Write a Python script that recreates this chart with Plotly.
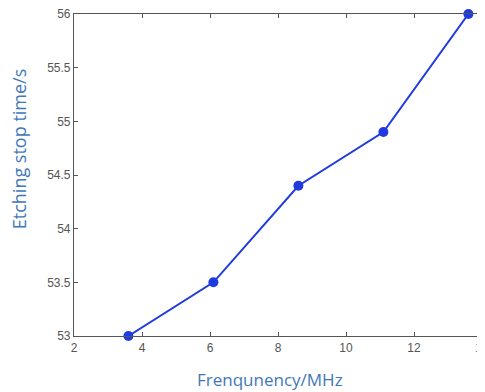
import plotly.graph_objects as go

freq = [3.6, 6.1, 8.6, 11.1, 13.6]
stop_time = [53.0, 53.5, 54.4, 54.9, 56.0]
x_ticks = [2, 4, 6, 8, 10, 12, 14]
y_ticks = [53, 53.5, 54, 54.5, 55, 55.5, 56]

fig = go.Figure()
fig.add_trace(go.Scatter(
    x=freq, y=stop_time, mode="lines+markers",
    line=dict(color="#1f3be0", width=2),
    marker=dict(color="#1f3be0", size=10),
    cliponaxis=False, showlegend=False,
))

axis_common = dict(
    showgrid=False, zeroline=False, showline=True, mirror="ticks",
    linecolor="#555555", linewidth=1.2, automargin=False,
    ticks="inside", ticklen=4, tickwidth=1, tickcolor="#555555",
    ticklabeloverflow="allow",
    tickfont=dict(family="Liberation Sans, Arial, sans-serif", size=12, color="#555555"),
)

fig.update_xaxes(range=[2, 14], tickvals=x_ticks, ticktext=[str(v) for v in x_ticks], **axis_common)
fig.update_yaxes(range=[53, 56], tickvals=y_ticks, ticktext=[f"{v:g}" for v in y_ticks], **axis_common)

fig.add_annotation(text="Frenqunency/MHz", xref="paper", yref="paper", x=0.48, y=0,
                   yshift=-43, xanchor="center", yanchor="middle", showarrow=False,
                   font=dict(family="Open Sans, Calibri, sans-serif", size=17, color="#3f78b8"))
fig.add_annotation(text="Etching stop time/s", xref="paper", yref="paper", x=0, y=0.58,
                   xshift=-55, xanchor="center", yanchor="middle", textangle=-90,
                   showarrow=False,
                   font=dict(family="Open Sans, Calibri, sans-serif", size=18, color="#3f78b8"))

fig.update_layout(
    width=477, height=384,
    margin=dict(l=66, r=3, t=6, b=56),
    plot_bgcolor="white", paper_bgcolor="white",
)

fig.write_html("out.html")
